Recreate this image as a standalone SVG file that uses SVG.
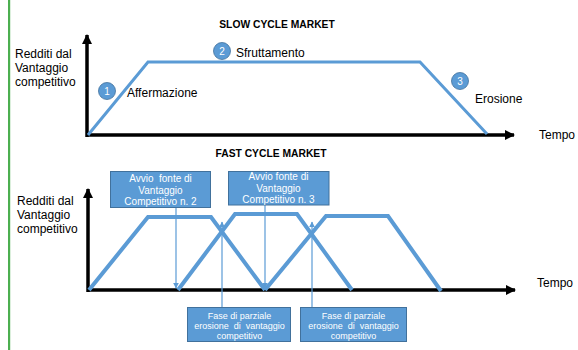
<svg xmlns="http://www.w3.org/2000/svg" width="578" height="350" viewBox="0 0 578 350">
<defs>
<style>
text{font-family:"Liberation Sans",Arial,sans-serif;fill:#000}
.lbl{font-size:12px}
.ttl{font-size:10.3px;font-weight:bold}
.box{fill:#5B9BD5;stroke:#41719C;stroke-width:1}
.bt{font-size:10px;fill:#fff;text-anchor:middle;white-space:pre}
.bs{font-size:9px;fill:#fff;text-anchor:middle;white-space:pre}
.axis{stroke:#000;stroke-width:3.5;fill:none}
.curve{stroke:#5B9BD5;stroke-width:3;fill:none;stroke-linejoin:miter}
.curve2{stroke:#5B9BD5;stroke-width:4;fill:none}
.conn{stroke:#5B9BD5;stroke-width:1.2;fill:none}
.circ{fill:#5B9BD5;stroke:#41719C;stroke-width:0.8}
.num{font-size:10px;fill:#fff;text-anchor:middle}
</style>
<marker id="ah" viewBox="0 0 10 10" refX="9" refY="5" markerWidth="3" markerHeight="3" orient="auto" markerUnits="strokeWidth">
<path d="M0,0 L10,5 L0,10 Z" fill="#000"/>
</marker>
<marker id="bh" viewBox="0 0 10 10" refX="9" refY="5" markerWidth="5" markerHeight="5" orient="auto" markerUnits="strokeWidth">
<path d="M0,0 L10,5 L0,10 Z" fill="#5B9BD5"/>
</marker>
</defs>
<rect x="0" y="0" width="578" height="350" fill="#fff"/>
<rect x="8" y="0" width="2.2" height="350" fill="#4CAF50"/>

<g id="top-chart">
<text class="ttl" x="277" y="28" text-anchor="middle">SLOW CYCLE MARKET</text>
<g id="top-ylabel">
<text class="lbl" x="15" y="57.5">Redditi dal</text>
<text class="lbl" x="15" y="71.5">Vantaggio</text>
<text class="lbl" x="15" y="85.5">competitivo</text>
</g>
<g id="top-axes">
<line class="axis" x1="87" y1="137" x2="87" y2="35" marker-end="url(#ah)"/>
<line class="axis" x1="86" y1="135" x2="514" y2="135" marker-end="url(#ah)"/>
</g>
<text class="lbl" x="539" y="139">Tempo</text>
<polyline id="slow-curve" class="curve" points="88,135 148,62 420,62 487,134"/>
<g id="phase1"><circle class="circ" cx="107" cy="91" r="8.5"/><text class="num" x="107" y="94.5">1</text><text class="lbl" x="127" y="97">Affermazione</text></g>
<g id="phase2"><circle class="circ" cx="222" cy="51" r="8.5"/><text class="num" x="222" y="54.5">2</text><text class="lbl" x="236" y="57">Sfruttamento</text></g>
<g id="phase3"><circle class="circ" cx="460" cy="81" r="8.5"/><text class="num" x="460" y="84.5">3</text><text class="lbl" x="475" y="103">Erosione</text></g>
</g>

<g id="bottom-chart">
<text class="ttl" x="271" y="156.5" text-anchor="middle">FAST CYCLE MARKET</text>
<g id="bottom-ylabel">
<text class="lbl" x="17" y="205">Redditi dal</text>
<text class="lbl" x="17" y="219">Vantaggio</text>
<text class="lbl" x="17" y="232.5">competitivo</text>
</g>
<g id="bottom-axes">
<line class="axis" x1="88" y1="292" x2="88" y2="189" marker-end="url(#ah)"/>
<line class="axis" x1="87" y1="290" x2="515" y2="290" marker-end="url(#ah)"/>
</g>
<text class="lbl" x="537" y="287">Tempo</text>
<g id="fast-curves">
<polyline class="curve2" points="89,290 148,217 211,217 265,290"/>
<polyline class="curve2" points="178,290 235,214 297,214 352,290"/>
<polyline class="curve2" points="265,290 326,216 388,216 441,291"/>
</g>
</g>

<g id="connectors">
<line class="conn" x1="176" y1="207" x2="176" y2="288" marker-end="url(#bh)"/>
<line class="conn" x1="265" y1="205" x2="265" y2="288" marker-end="url(#bh)"/>
<line class="conn" x1="222" y1="307" x2="222" y2="222" marker-end="url(#bh)"/>
<line class="conn" x1="312" y1="307" x2="312" y2="222" marker-end="url(#bh)"/>
</g>

<g id="box-avvio2">
<rect class="box" x="110.5" y="171.5" width="100" height="36"/>
<text class="bt" x="160.5" y="182">Avvio  fonte di</text>
<text class="bt" x="160.5" y="193.5">Vantaggio</text>
<text class="bt" x="160.5" y="205">Competitivo n. 2</text>
</g>
<g id="box-avvio3">
<rect class="box" x="228.5" y="171.5" width="100.5" height="33.5"/>
<text class="bt" x="278.5" y="180">Avvio fonte di</text>
<text class="bt" x="278.5" y="191.5">Vantaggio</text>
<text class="bt" x="278.5" y="203">Competitivo n. 3</text>
</g>
<g id="box-erosione1">
<rect class="box" x="187.5" y="307.5" width="103" height="34"/>
<text class="bs" x="239.5" y="318.5">Fase di parziale</text>
<text class="bs" x="239.5" y="329">erosione  di  vantaggio</text>
<text class="bs" x="239.5" y="339">competitivo</text>
</g>
<g id="box-erosione2">
<rect class="box" x="300.5" y="307.5" width="106" height="34"/>
<text class="bs" x="353.5" y="318.5">Fase di parziale</text>
<text class="bs" x="353.5" y="329">erosione  di  vantaggio</text>
<text class="bs" x="353.5" y="339">competitivo</text>
</g>
</svg>
